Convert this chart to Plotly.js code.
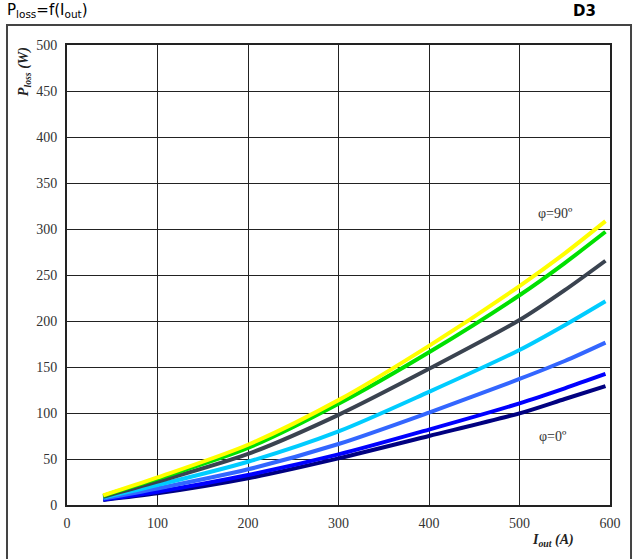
<!DOCTYPE html>
<html>
<head>
<meta charset="utf-8">
<script src="https://cdn.plot.ly/plotly-3.0.1.min.js"></script>
<style>html,body{margin:0;padding:0;background:#fff;}#chart{width:633px;height:559px;}</style>
</head>
<body>
<div id="chart"></div>
<script>
// Output current (A)
var iout = [40, 100, 200, 300, 400, 500, 550, 595];
// Loss curves, phi = 90° (top) to phi = 0° (bottom)
var lossYellow   = [10.5, 30.0, 65.5, 114, 173, 238, 273.5, 308.5];
var lossGreen    = [10.0, 28.6, 62.0, 110, 166, 228, 263.0, 297.0];
var lossGray     = [9.0, 25.4, 55.5, 98, 148, 201, 233.5, 265.5];
var lossCyan     = [8.0, 21.7, 47.0, 80, 123, 168.5, 195.5, 221.5];
var lossMidBlue  = [7.0, 18.0, 38.8, 66.3, 100.5, 137, 156.5, 176.5];
var lossBlue     = [6.0, 14.5, 32.6, 55, 82, 110.5, 126.8, 142.4];
var lossNavy     = [5.5, 12.7, 29.0, 50.7, 75, 99.6, 115.2, 129.3];

var series = [
  {y: lossNavy, c: '#000080'},
  {y: lossBlue, c: '#0000ff'},
  {y: lossMidBlue, c: '#3366ff'},
  {y: lossCyan, c: '#00ccff'},
  {y: lossGray, c: '#3a4350'},
  {y: lossGreen, c: '#00e000'},
  {y: lossYellow, c: '#ffff00'}
];
var traces = series.map(function(s){
  return {x: iout, y: s.y, type: 'scatter', mode: 'lines',
          line: {color: s.c, width: 4, shape: 'spline', smoothing: 0.8},
          hoverinfo: 'skip', showlegend: false};
});

var serif = 'Liberation Serif';
var sans = 'DejaVu Sans';
var tickFont = {family: serif, size: 14, color: '#333'};
var layout = {
  width: 633, height: 559,
  margin: {l: 67, r: 23, t: 45, b: 54},
  paper_bgcolor: '#fff', plot_bgcolor: '#fff',
  font: {family: serif},
  showlegend: false,
  xaxis: {range: [0, 600], dtick: 100, tick0: 0, showgrid: true, gridcolor: '#222', gridwidth: 1,
          showline: true, linecolor: '#222', linewidth: 2, mirror: true, zeroline: false,
          ticks: '', tickfont: tickFont, fixedrange: true, ticklabelstandoff: 4},
  yaxis: {range: [0, 500], dtick: 50, tick0: 0, showgrid: true, gridcolor: '#222', gridwidth: 1,
          showline: true, linecolor: '#222', linewidth: 2, mirror: true, zeroline: false,
          ticks: '', tickfont: tickFont, fixedrange: true, ticklabelstandoff: 5},
  shapes: [
    {type: 'rect', xref: 'paper', yref: 'paper', x0: -0.1105, x1: 1.0387, y0: -0.125, y1: 1.0435,
     line: {color: '#444', width: 2}, fillcolor: 'rgba(0,0,0,0)', layer: 'below'}
  ],
  annotations: [
    {xref: 'paper', yref: 'paper', x: -0.114, y: 1.074, xanchor: 'left', yanchor: 'middle',
     text: 'P<sub>loss</sub>=f(I<sub>out</sub>)', showarrow: false,
     font: {family: sans, size: 15, color: '#000'}},
    {xref: 'paper', yref: 'paper', x: 0.978, y: 1.074, xanchor: 'right', yanchor: 'middle',
     text: '<b>D3</b>', showarrow: false,
     font: {family: sans, size: 15, color: '#000'}},
    {xref: 'paper', yref: 'paper', x: -0.078, y: 1.0, xanchor: 'center', yanchor: 'top',
     text: '<b><i>P<sub>loss</sub> (W)</i></b>', textangle: -90, showarrow: false,
     font: {family: serif, size: 14, color: '#222'}},
    {xref: 'paper', yref: 'paper', x: 0.895, y: -0.055, xanchor: 'center', yanchor: 'top',
     text: '<b><i>I<sub>out</sub> (A)</i></b>', showarrow: false,
     font: {family: serif, size: 14, color: '#222'}},
    {xref: 'x', yref: 'y', x: 540, y: 317, text: 'φ=90º', showarrow: false,
     font: {family: serif, size: 14, color: '#333'}},
    {xref: 'x', yref: 'y', x: 537, y: 74, text: 'φ=0º', showarrow: false,
     font: {family: serif, size: 14, color: '#333'}}
  ]
};
Plotly.newPlot('chart', traces, layout, {displayModeBar: false, staticPlot: true});
</script>
</body>
</html>
